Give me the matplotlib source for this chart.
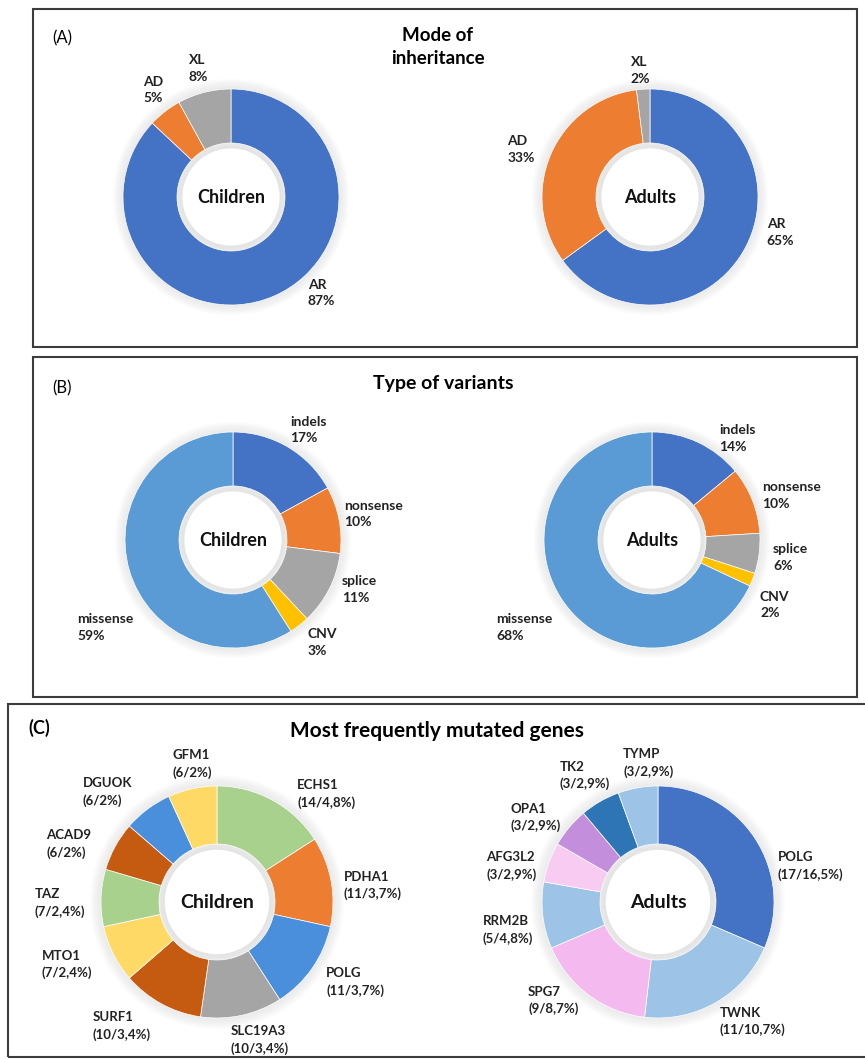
import numpy as np
import matplotlib
matplotlib.use("Agg")
from matplotlib import pyplot as plt
from matplotlib.patches import Rectangle, Circle

plt.rcParams['font.family'] = ['Lato', 'DejaVu Sans']

# ---- data ----
inh_labels = ['AR', 'AD', 'XL']
inh_children = [87, 5, 8]
inh_adults = [65, 33, 2]

var_labels = ['indels', 'nonsense', 'splice', 'CNV', 'missense']
var_children = [17, 10, 11, 3, 59]
var_adults = [14, 10, 6, 2, 68]

genes_children = ['ECHS1', 'PDHA1', 'POLG', 'SLC19A3', 'SURF1',
                  'MTO1', 'TAZ', 'ACAD9', 'DGUOK', 'GFM1']
counts_children = [14, 11, 11, 10, 10, 7, 7, 6, 6, 6]
pct_children = ['4,8', '3,7', '3,7', '3,4', '3,4', '2,4', '2,4', '2', '2', '2']

genes_adults = ['POLG', 'TWNK', 'SPG7', 'RRM2B', 'AFG3L2', 'OPA1', 'TK2', 'TYMP']
counts_adults = [17, 11, 9, 5, 3, 3, 3, 3]
pct_adults = ['16,5', '10,7', '8,7', '4,8', '2,9', '2,9', '2,9', '2,9']

# ---- styles ----
BLUE = '#4472C4'
ORANGE = '#ED7D31'
GRAY = '#A5A5A5'
YELLOW = '#FFC000'
LBLUE = '#5B9BD5'
inh_colors = [BLUE, ORANGE, GRAY]
var_colors = [BLUE, ORANGE, GRAY, YELLOW, LBLUE]
gc_colors = ['#A9D18E', '#ED7D31', '#4A8FDB', '#A5A5A5', '#C55A11',
             '#FFD966', '#A9D18E', '#C55A11', '#4A8FDB', '#FFD966']
ga_colors = ['#4472C4', '#9DC3E6', '#F4B9EE', '#9DC3E6', '#F8CBF2',
             '#C38FDD', '#2E75B6', '#9DC3E6']

W, H = 865, 1059
fig = plt.figure(figsize=(W / 100, H / 100), dpi=100)
fig.patch.set_facecolor('white')


def fx(x):
    return x / W


def fy(y):
    return 1 - y / H


def box(x0, y0, x1, y1):
    fig.patches.append(Rectangle((fx(x0), fy(y1)), fx(x1 - x0), (y1 - y0) / H,
                                 transform=fig.transFigure, fill=False,
                                 edgecolor='#3c3c3c', linewidth=1.5))


def donut(cx, cy, r, values, colors, centre, labels, label_pos, fs=10, cfs=13):
    ax = fig.add_axes([fx(cx - 2 * r), fy(cy + 2 * r), 4 * r / W, 4 * r / H])
    # soft glow round the ring
    for k in range(8):
        ax.add_patch(Circle((0, 0), 1.0 + 0.012 * (k + 1), color='#c0c0c0',
                            alpha=0.04, lw=0))
    ax.pie(values, colors=colors, startangle=90, counterclock=False,
           wedgeprops=dict(width=0.5, edgecolor='white', linewidth=0.5))
    # faint inner shadow of the hole
    for k in range(5):
        ax.add_patch(Circle((0, 0), 0.5 - 0.01 * k, color='#d4d4d4',
                            alpha=0.05, lw=0))
    ax.add_patch(Circle((0, 0), 0.45, color='white', lw=0))
    ax.text(0, 0, centre, ha='center', va='center', fontsize=cfs,
            fontweight='bold', color='#111111')
    for lab, (dx, dy) in zip(labels, label_pos):
        ax.text(dx, dy, lab, ha='left', va='center', fontsize=fs,
                fontweight='bold', color='#222222', linespacing=1.45)
    ax.set_xlim(-2, 2)
    ax.set_ylim(-2, 2)
    ax.set_axis_off()
    return ax


# ---- panel boxes ----
box(33, 9, 857, 347)
box(33, 357, 857, 697)
box(8, 704, 880, 1057)

# ---- panel A ----
fig.text(fx(52), fy(38), '(A)', fontsize=12, va='center', ha='left')
fig.text(fx(438), fy(47), 'Mode of\ninheritance', fontsize=13.5, fontweight='bold',
         ha='center', va='center', linespacing=1.4)

a_child_lab = [f'{l}\n{v}%' for l, v in zip(inh_labels, inh_children)]
a_adult_lab = [f'{l}\n{v}%' for l, v in zip(inh_labels, inh_adults)]
donut(231, 197, 108, inh_children, inh_colors, 'Children', a_child_lab,
      [(0.71, -0.89), (-0.81, 0.99), (-0.39, 1.19)])
donut(650, 197, 108, inh_adults, inh_colors, 'Adults', a_adult_lab,
      [(1.08, -0.33), (-1.32, 0.44), (-0.18, 1.17)])

# ---- panel B ----
fig.text(fx(52), fy(388), '(B)', fontsize=12, va='center', ha='left')
fig.text(fx(443), fy(384), 'Type of variants', fontsize=14, fontweight='bold',
         ha='center', va='center')

b_child_lab = [f'{l}\n{v}%' for l, v in zip(var_labels, var_children)]
b_adult_lab = [f'{l}\n{v}%' for l, v in zip(var_labels, var_adults)]
donut(233, 540, 108, var_children, var_colors, 'Children', b_child_lab,
      [(0.53, 1.02), (1.03, 0.24), (1.01, -0.46), (0.69, -0.95), (-1.44, -0.81)])
donut(652, 540, 108, var_adults, var_colors, 'Adults', b_adult_lab,
      [(0.62, 0.94), (1.02, 0.41), (1.12, -0.16), (1.0, -0.6), (-1.44, -0.81)])

# ---- panel C ----
fig.text(fx(28), fy(728), '(C)', fontsize=13, fontweight='bold', va='center', ha='left')
fig.text(fx(437), fy(731), 'Most frequently mutated genes', fontsize=15,
         fontweight='bold', ha='center', va='center')

c_child_lab = [f'{g}\n({n}/{p}%)' for g, n, p in zip(genes_children, counts_children, pct_children)]
c_adult_lab = [f'{g}\n({n}/{p}%)' for g, n, p in zip(genes_adults, counts_adults, pct_adults)]
donut(217, 902, 116, counts_children, gc_colors, 'Children', c_child_lab,
      [(0.69, 0.93), (1.09, 0.14), (0.94, -0.69), (0.12, -1.19), (-1.07, -1.07),
       (-1.51, -0.54), (-1.57, -0.01), (-1.47, 0.5), (-1.16, 0.95), (-0.38, 1.19)],
      fs=9.5, cfs=14)
donut(658, 902, 116, counts_adults, ga_colors, 'Adults', c_adult_lab,
      [(1.03, 0.31), (0.53, -1.03), (-1.12, -0.85), (-1.51, -0.24),
       (-1.48, 0.31), (-1.27, 0.73), (-0.85, 1.09), (-0.3, 1.2)],
      fs=9.5, cfs=14)

fig.savefig('out.png', dpi=100)
